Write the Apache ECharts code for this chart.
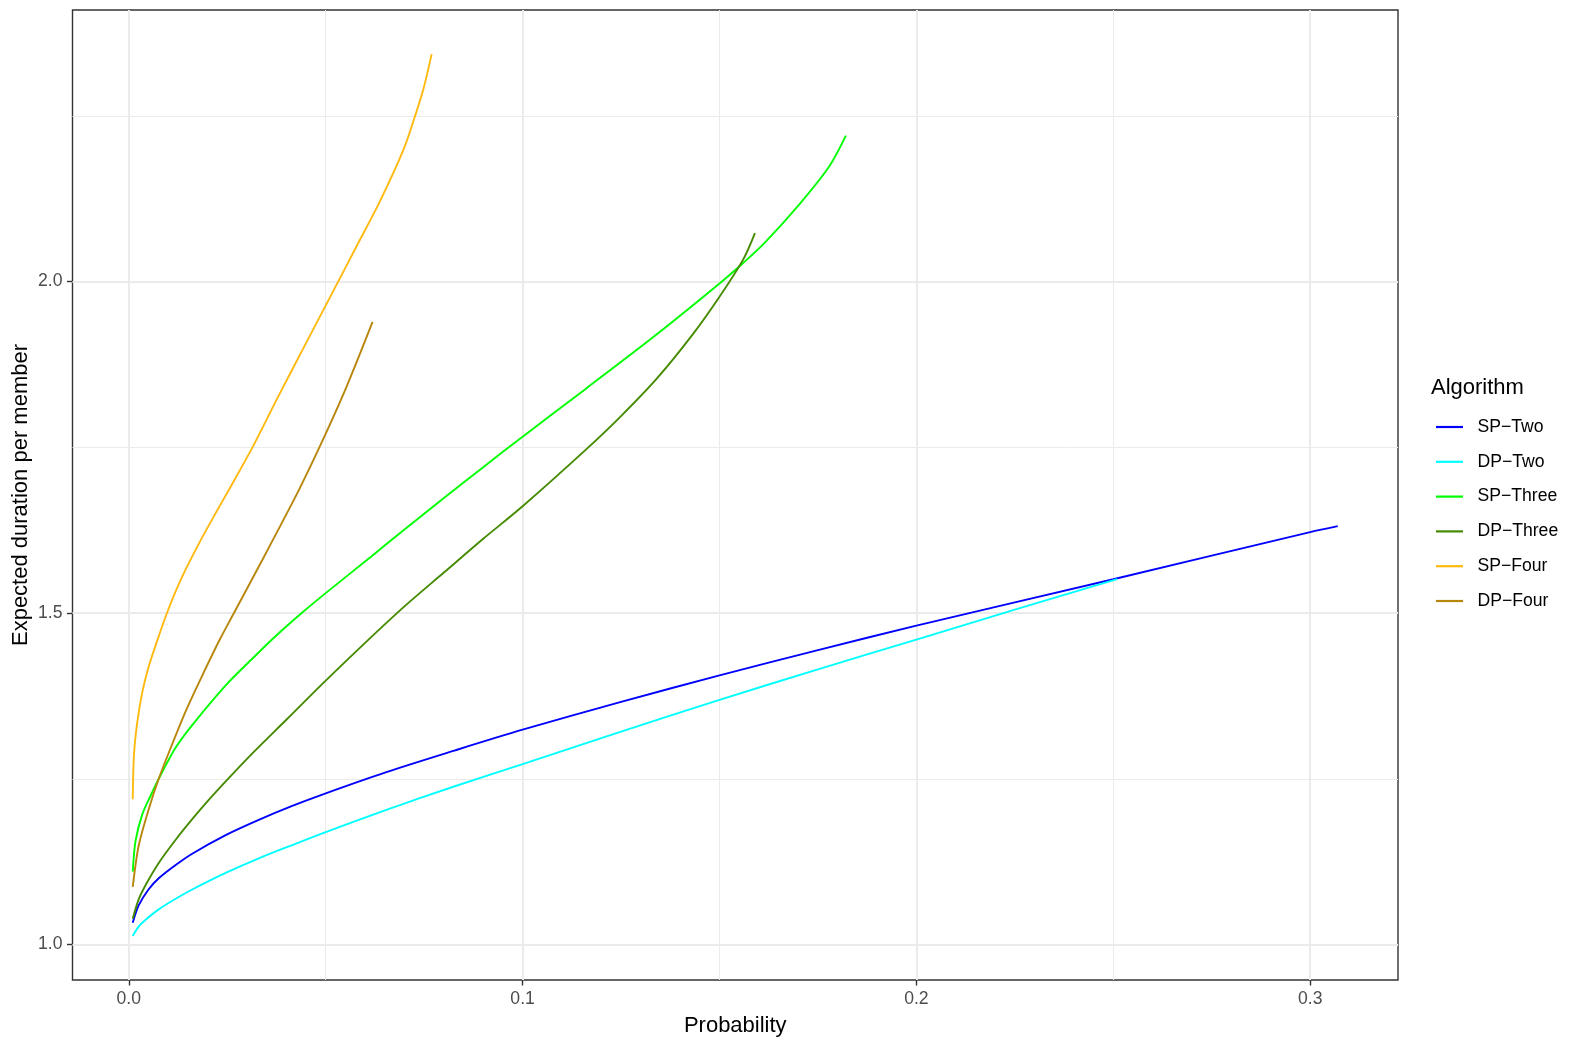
<!DOCTYPE html>
<html>
<head>
<meta charset="utf-8">
<script src="https://cdn.jsdelivr.net/npm/echarts@6/dist/echarts.min.js"></script>
<style>
html,body{margin:0;padding:0;background:#fff;}
#chart{width:1578px;height:1047px;}
</style>
</head>
<body>
<div id="chart"></div>
<script>
// ---- data (x = probability, y = expected duration per member) ----
const seriesNames = ['SP\u2212Two', 'DP\u2212Two', 'SP\u2212Three', 'DP\u2212Three', 'SP\u2212Four', 'DP\u2212Four'];
const seriesColors = ['#0000FF', '#00FFFF', '#00FF00', '#458B00', '#FFB90F', '#B8860B'];

const spTwo = [[0.001,1.033],[0.0025,1.059],[0.005,1.083],[0.0076,1.100],[0.0119,1.120],[0.0161,1.137],[0.0246,1.165],[0.033,1.188],[0.0415,1.209],[0.05,1.228],[0.0654,1.260],[0.0824,1.292],[0.1,1.324],[0.125,1.366],[0.15,1.406],[0.175,1.444],[0.2,1.481],[0.25,1.551],[0.3,1.622],[0.307,1.631]];
const dpTwo = [[0.001,1.013],[0.0025,1.027],[0.0042,1.037],[0.0076,1.053],[0.0119,1.069],[0.0161,1.083],[0.0246,1.108],[0.033,1.130],[0.0415,1.150],[0.05,1.1695],[0.0654,1.203],[0.0824,1.238],[0.1,1.272],[0.125,1.321],[0.15,1.369],[0.175,1.415],[0.2,1.46],[0.225,1.505],[0.251,1.551]];
const spThree = [[0.001,1.11],[0.0017,1.156],[0.0034,1.196],[0.0055,1.224],[0.0076,1.25],[0.0119,1.297],[0.0161,1.331],[0.0246,1.391],[0.0322,1.436],[0.038,1.469],[0.0445,1.503],[0.05,1.53],[0.0615,1.585],[0.07,1.626],[0.0797,1.672],[0.09,1.72],[0.1,1.766],[0.116,1.838],[0.134,1.92],[0.15,1.997],[0.156,2.028],[0.1614,2.058],[0.1705,2.118],[0.1778,2.173],[0.1821,2.22]];
const dpThree = [[0.001,1.039],[0.0025,1.068],[0.0042,1.089],[0.0076,1.123],[0.0119,1.158],[0.0161,1.189],[0.0203,1.218],[0.0246,1.246],[0.0315,1.289],[0.04,1.339],[0.05,1.398],[0.06,1.455],[0.07,1.51],[0.08,1.561],[0.09,1.612],[0.1,1.661],[0.116,1.746],[0.125,1.797],[0.134,1.853],[0.1433,1.921],[0.15,1.977],[0.156,2.033],[0.159,2.073]];
const spFour = [[0.001,1.219],[0.0013,1.285],[0.0021,1.333],[0.0034,1.38],[0.0051,1.42],[0.0076,1.465],[0.0097,1.5],[0.012,1.534],[0.0145,1.5665],[0.018,1.607],[0.022,1.65],[0.026,1.692],[0.0315,1.751],[0.0379,1.826],[0.045,1.907],[0.0523,1.99],[0.058,2.055],[0.0637,2.12],[0.0697,2.198],[0.0726,2.248],[0.0748,2.29],[0.0769,2.343]];
const dpFour = [[0.001,1.087],[0.0025,1.149],[0.005,1.203],[0.0076,1.25],[0.011,1.302],[0.0146,1.354],[0.019,1.41],[0.0231,1.46],[0.0267,1.50],[0.0339,1.58],[0.0386,1.633],[0.0434,1.688],[0.0488,1.755],[0.0552,1.84],[0.0619,1.939]];

const xTicks = [0.0, 0.1, 0.2, 0.3];
const xMinorTicks = [0.05, 0.15, 0.25];
const yTicks = [1.0, 1.5, 2.0];
const yMinorTicks = [1.25, 1.75, 2.25];

const allData = [spTwo, dpTwo, spThree, dpThree, spFour, dpFour];

// ggplot-style 5% expansion of the data range
function expandRange(idx) {
  let lo = Infinity, hi = -Infinity;
  allData.forEach(s => s.forEach(p => { lo = Math.min(lo, p[idx]); hi = Math.max(hi, p[idx]); }));
  const pad = (hi - lo) * 0.05;
  return [lo - pad, hi + pad];
}
const xr = expandRange(0), yr = expandRange(1);

const FONT = "'Liberation Sans', Arial, Helvetica, sans-serif";
const gridMajor = {color: '#EBEBEB', width: 2, type: 'solid'};
const gridMinor = {color: '#EBEBEB', width: 1, type: 'solid'};

const gridLines = []
  .concat(xMinorTicks.map(v => ({xAxis: v, lineStyle: gridMinor})))
  .concat(yMinorTicks.map(v => ({yAxis: v, lineStyle: gridMinor})))
  .concat(xTicks.map(v => ({xAxis: v, lineStyle: gridMajor})))
  .concat(yTicks.map(v => ({yAxis: v, lineStyle: gridMajor})));

const chart = echarts.init(document.getElementById('chart'), null, {renderer: 'canvas'});

const series = [{
  name: '__grid',
  type: 'line',
  data: [],
  silent: true,
  z: 1,
  markLine: {
    silent: true,
    symbol: 'none',
    animation: false,
    label: {show: false},
    z: 1,
    data: gridLines
  }
}].concat(allData.map((d, i) => ({
  name: seriesNames[i],
  type: 'line',
  data: d,
  showSymbol: false,
  smooth: 0.3,
  z: 3,
  lineStyle: {color: seriesColors[i], width: 1.9},
  itemStyle: {color: seriesColors[i]},
  emphasis: {disabled: true}
})));

chart.setOption({
  animation: false,
  backgroundColor: '#ffffff',
  textStyle: {fontFamily: FONT},
  title: {
    text: 'Algorithm',
    left: 1431,
    top: 376,
    padding: 0,
    textStyle: {fontFamily: FONT, fontSize: 22, fontWeight: 'normal', color: '#000', lineHeight: 24}
  },
  legend: {
    data: seriesNames,
    orient: 'vertical',
    left: 1436,
    top: 417,
    padding: 0,
    itemWidth: 27,
    itemHeight: 2.2,
    itemGap: 14.8,
    icon: 'rect',
    selectedMode: false,
    textStyle: {fontFamily: FONT, fontSize: 17.6, color: '#000', lineHeight: 20, padding: [0, 0, 0, 9.5]}
  },
  grid: {
    left: 72.5,
    top: 10,
    right: 180,
    bottom: 67,
    show: true,
    borderColor: '#333333',
    borderWidth: 1.4,
    backgroundColor: 'transparent',
    containLabel: false,
    outerBoundsMode: 'none'
  },
  xAxis: {
    type: 'value',
    min: xr[0],
    max: xr[1],
    name: 'Probability',
    nameLocation: 'middle',
    nameGap: 35,
    nameMoveOverlap: false,
    nameTextStyle: {fontFamily: FONT, fontSize: 22, color: '#000'},
    axisLine: {show: false, onZero: false},
    axisTick: {show: true, customValues: xTicks, length: 5.5, lineStyle: {color: '#333333', width: 1.4}},
    axisLabel: {customValues: xTicks, formatter: v => v.toFixed(1), color: '#4D4D4D', fontSize: 17.6, fontFamily: FONT, margin: 10},
    splitLine: {show: false},
    minorSplitLine: {show: false}
  },
  yAxis: {
    type: 'value',
    min: yr[0],
    max: yr[1],
    name: 'Expected duration per member',
    nameLocation: 'middle',
    nameGap: 41,
    nameMoveOverlap: false,
    nameTextStyle: {fontFamily: FONT, fontSize: 22, color: '#000'},
    axisLine: {show: false, onZero: false},
    axisTick: {show: true, customValues: yTicks, length: 5.5, lineStyle: {color: '#333333', width: 1.4}},
    axisLabel: {customValues: yTicks, formatter: v => v.toFixed(1), color: '#4D4D4D', fontSize: 17.6, fontFamily: FONT, margin: 10, padding: [4, 0, 0, 0]},
    splitLine: {show: false},
    minorSplitLine: {show: false}
  },
  series: series
});
</script>
</body>
</html>
